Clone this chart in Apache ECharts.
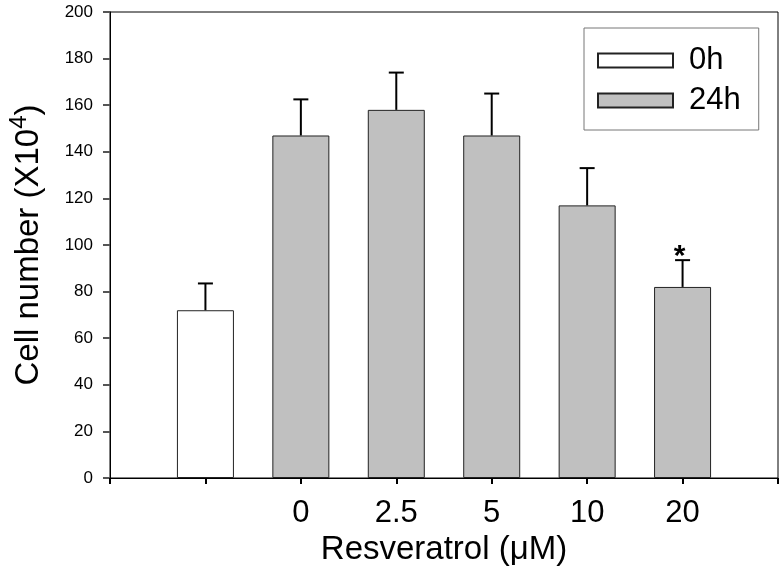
<!DOCTYPE html>
<html>
<head>
<meta charset="utf-8">
<script src="https://cdn.jsdelivr.net/npm/echarts@6/dist/echarts.min.js"></script>
<style>
html,body{margin:0;padding:0;background:#fff;}
#c{width:781px;height:583px;}
</style>
</head>
<body>
<div id="c"></div>
<script>
// ---- data ----
const categories = ['', '', '0', '2.5', '5', '10', '20', ''];
const values0h  = [null, 72, null, null, null, null, null, null];
const values24h = [null, null, 147, 158, 147, 117, 82, null];
const errors    = [null, 11.5, 15.5, 16, 18, 16, 11.5, null];
const marks     = ['', '', '', '', '', '', '*', ''];
const yTicks = { min: 0, max: 200, interval: 20 };
const seriesNames = ['0h', '24h'];

// ---- build ----
const FONT = "'Liberation Sans', Arial, sans-serif";
const errData = [];
for (let i = 0; i < categories.length; i++) {
  const m = values0h[i] != null ? values0h[i] : values24h[i];
  if (m != null && errors[i] != null) errData.push([i, m, m + errors[i], marks[i]]);
}

const chart = echarts.init(document.getElementById('c'), null, { renderer: 'canvas' });
chart.setOption({
  animation: false,
  backgroundColor: '#fff',
  textStyle: { fontFamily: FONT },
  grid: {
    left: 110, top: 12, right: 3, bottom: 105,
    containLabel: false, outerBoundsMode: 'none',
    show: true, borderColor: '#000', borderWidth: 1, backgroundColor: 'transparent'
  },
  legend: {
    orient: 'vertical',
    left: 584, top: 28,
    padding: [17, 18, 14, 13],
    borderColor: '#777', borderWidth: 1,
    itemWidth: 75, itemHeight: 14, itemGap: 9,
    icon: 'rect',
    textStyle: { fontFamily: FONT, fontSize: 31, lineHeight: 26, color: '#000', padding: [0, 0, 0, 11] },
    data: seriesNames
  },
  xAxis: {
    type: 'category',
    data: categories,
    boundaryGap: false,
    name: 'Resveratrol (\u03BCM)',
    nameLocation: 'middle',
    nameGap: 50,
    nameTextStyle: { fontFamily: FONT, fontSize: 33, color: '#000' },
    axisLine: { lineStyle: { color: '#000', width: 1 } },
    axisTick: { show: true, inside: false, length: 6, interval: 0, lineStyle: { color: '#000', width: 2 } },
    axisLabel: { interval: 0, margin: 20, fontFamily: FONT, fontSize: 31, color: '#000' },
    splitLine: { show: false }
  },
  yAxis: {
    type: 'value',
    min: yTicks.min, max: yTicks.max, interval: yTicks.interval,
    name: '{a|Cell number (X10}{s|4}{a|)}',
    nameLocation: 'middle',
    nameRotate: 90,
    nameGap: 59,
    nameTextStyle: {
      rich: {
        a: { fontFamily: FONT, fontSize: 33, color: '#000' },
        s: { fontFamily: FONT, fontSize: 24, color: '#000', padding: [0, 0, 20, 0] }
      }
    },
    axisLine: { show: true, lineStyle: { color: '#000', width: 1 } },
    axisTick: { show: true, inside: false, length: 7, lineStyle: { color: '#555', width: 2 } },
    axisLabel: { margin: 17, fontFamily: FONT, fontSize: 17, color: '#000' },
    splitLine: { show: false }
  },
  series: [
    {
      name: seriesNames[0], type: 'bar', data: values0h, barWidth: 57, barGap: '-100%',
      itemStyle: { color: '#ffffff', borderColor: '#222', borderWidth: 1 }
    },
    {
      name: seriesNames[1], type: 'bar', data: values24h, barWidth: 57, barGap: '-100%',
      itemStyle: { color: '#c0c0c0', borderColor: '#222', borderWidth: 1 }
    },
    {
      name: 'err', type: 'custom', data: errData, z: 5, clip: false,
      renderItem: function (params, api) {
        const x = api.value(0);
        const base = api.coord([x, api.value(1)]);
        const top = api.coord([x, api.value(2)]);
        const cap = 7.5;
        const children = [
          { type: 'line', shape: { x1: base[0], y1: base[1], x2: top[0], y2: top[1] }, style: { stroke: '#000', lineWidth: 2 } },
          { type: 'line', shape: { x1: top[0] - cap, y1: top[1], x2: top[0] + cap, y2: top[1] }, style: { stroke: '#000', lineWidth: 2 } }
        ];
        const mk = errData[params.dataIndex][3];
        if (mk) {
          children.push({ type: 'text', style: { text: mk, x: top[0] - 3, y: top[1] - 3, align: 'center', verticalAlign: 'middle', font: 'bold 30px ' + FONT, fill: '#000' } });
        }
        return { type: 'group', children: children };
      }
    }
  ]
});
</script>
</body>
</html>
